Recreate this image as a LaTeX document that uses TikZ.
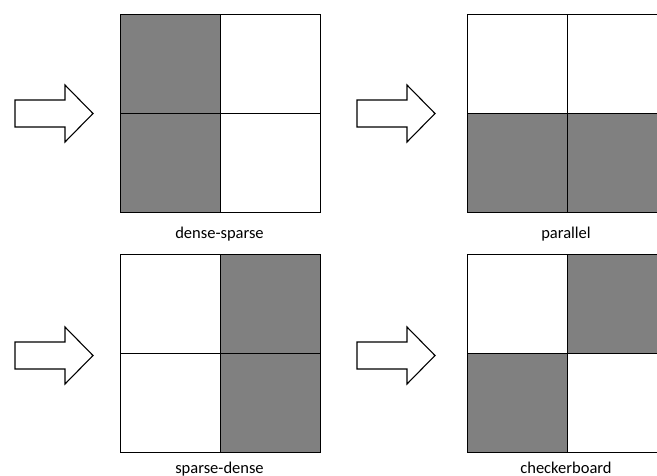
\documentclass[tikz,border=0pt]{standalone}
\usepackage{fontspec}
\setmainfont{Carlito}
\definecolor{cellgray}{RGB}{128,128,128}
\begin{document}
\begin{tikzpicture}[x=1pt,y=-1pt,
  cell/.style={draw=black, line width=1pt, minimum width=100pt, minimum height=99pt, inner sep=0pt, outer sep=0pt, anchor=north west},
  dark/.style={cell, fill=cellgray},
  light/.style={cell, fill=white},
  bigarrow/.style={draw=black, fill=white, line width=1.1pt, line join=miter},
  caption/.style={font=\fontsize{16.5}{18}\selectfont, anchor=base, inner sep=0pt}]
\useasboundingbox (0,0) rectangle (657,475);
\clip (0,0) rectangle (657,475);
% arrows
\newcommand{\fatarrow}[3]{%
  \draw[bigarrow] (#1,#2-13.5) -- (#1+50,#2-13.5) -- (#1+50,#2-28.5) -- (#1+78,#2) -- (#1+50,#2+28.5) -- (#1+50,#2+13.5) -- (#1,#2+13.5) -- cycle;}
\fatarrow{15}{113.5}{a}
\fatarrow{357}{113.5}{b}
\fatarrow{15}{355.5}{c}
\fatarrow{357}{355.5}{d}
% dense-sparse
\node[dark]  (a11) at (120,14) {};
\node[light] (a12) at (220,14) {};
\node[dark]  (a21) at (120,113) {};
\node[light] (a22) at (220,113) {};
% parallel
\node[light] (b11) at (467,14) {};
\node[light] (b12) at (567,14) {};
\node[dark]  (b21) at (467,113) {};
\node[dark]  (b22) at (567,113) {};
% sparse-dense
\node[light] (c11) at (120,254) {};
\node[dark]  (c12) at (220,254) {};
\node[light] (c21) at (120,353) {};
\node[dark]  (c22) at (220,353) {};
% checkerboard
\node[light] (d11) at (467,254) {};
\node[dark]  (d12) at (567,254) {};
\node[dark]  (d21) at (467,353) {};
\node[light] (d22) at (567,353) {};
% captions
\node[caption] (la) at (219.5,238.5) {dense-sparse};
\node[caption] (lb) at (566,238.5) {parallel};
\node[caption] (lc) at (219.5,473) {sparse-dense};
\node[caption] (ld) at (566,473) {checkerboard};
\end{tikzpicture}
\end{document}
